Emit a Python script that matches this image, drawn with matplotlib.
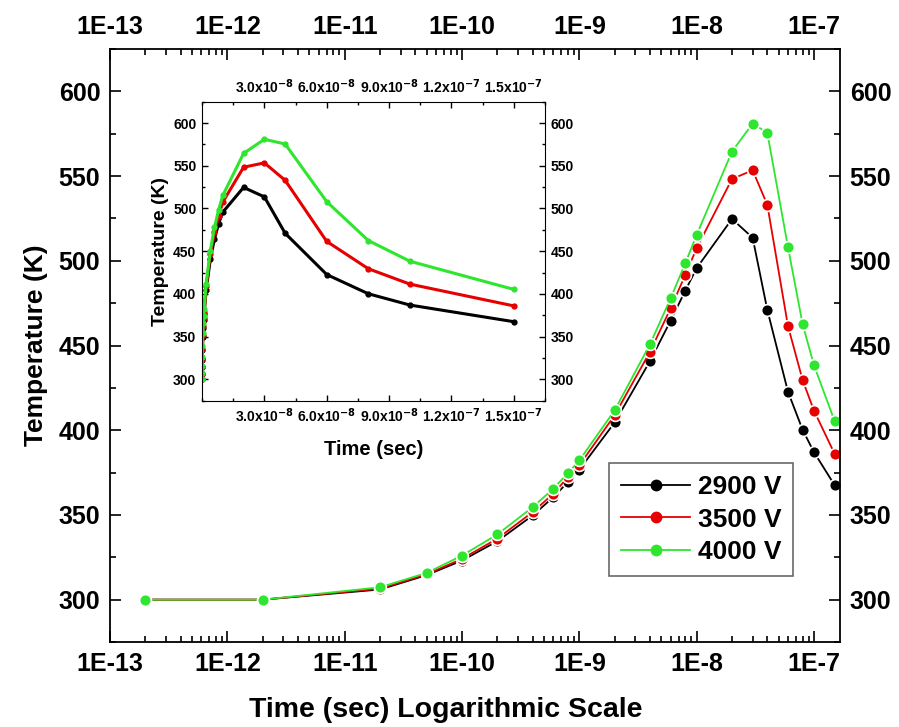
import matplotlib
matplotlib.use("Agg")
import matplotlib.pyplot as plt
import numpy as np
from matplotlib.ticker import FixedLocator, FuncFormatter, LogLocator, MultipleLocator, NullFormatter

plt.rcParams['font.family'] = ['Liberation Sans', 'DejaVu Sans']
plt.rcParams['font.weight'] = 'bold'

# time points (s) and temperatures (K) for each applied voltage
time_s = [2e-13, 2e-12, 2e-11, 5e-11, 1e-10, 2e-10, 4e-10, 6e-10, 8e-10, 1e-9, 2e-9,
          4e-9, 6e-9, 8e-9, 1e-8, 2e-8, 3e-8, 4e-8, 6e-8, 8e-8, 1e-7, 1.5e-7]
temp_2900 = [300, 300, 306.0, 314.5, 323.1, 334.5, 349.7, 360.5, 369.4, 376.7, 404.6,
             440.8, 464.7, 482.4, 495.7, 524.7, 513.6, 471.0, 422.7, 400.2, 387.0, 367.5]
temp_3500 = [300, 300, 306.5, 315.0, 324.1, 336.0, 351.7, 362.5, 372.4, 379.3, 408.9,
             446.3, 472.0, 491.7, 507.5, 548.3, 553.4, 533.0, 461.5, 429.5, 411.5, 386.0]
temp_4000 = [300, 300, 307.3, 315.8, 326.0, 338.5, 354.6, 365.5, 374.7, 382.2, 411.8,
             450.7, 477.9, 498.6, 515.3, 564.5, 581.0, 575.5, 508.0, 462.5, 438.3, 405.3]

labels = ["2900 V", "3500 V", "4000 V"]
colors = ["#000000", "#e60000", "#2ee62e"]
series = [temp_2900, temp_3500, temp_4000]

inset_xticks = [3e-8, 6e-8, 9e-8, 1.2e-7, 1.5e-7]
inset_xticklabels = [r"3.0x10$^{-8}$", r"6.0x10$^{-8}$", r"9.0x10$^{-8}$",
                     r"1.2x10$^{-7}$", r"1.5x10$^{-7}$"]

fig = plt.figure(figsize=(8.99, 7.27), dpi=100)
ax = fig.add_axes([0.1224, 0.1169, 0.812, 0.8157])

for temps, lab, col in zip(series, labels, colors):
    ax.plot(time_s, temps, color=col, lw=1.3, marker='o', markersize=8.5,
            markerfacecolor=col, markeredgecolor='white', markeredgewidth=1.2, label=lab)

ax.set_xscale('log')
ax.set_xlim(1e-13, 1.666e-7)
ax.set_ylim(275, 625)
ax.xaxis.set_major_locator(FixedLocator([1e-13, 1e-12, 1e-11, 1e-10, 1e-9, 1e-8, 1e-7]))
ax.xaxis.set_major_formatter(FuncFormatter(lambda v, p: f"1E{int(round(np.log10(v)))}"))
ax.xaxis.set_minor_locator(LogLocator(base=10, subs=np.arange(2, 10), numticks=50))
ax.xaxis.set_minor_formatter(NullFormatter())
ax.yaxis.set_major_locator(MultipleLocator(50))
ax.yaxis.set_minor_locator(MultipleLocator(25))
ax.tick_params(which='both', direction='in', top=True, right=True,
               labeltop=True, labelright=True, width=1.2, labelsize=18, pad=7)
ax.tick_params(which='major', length=8)
ax.tick_params(which='minor', length=4.5)
for s in ax.spines.values():
    s.set_linewidth(1.3)

ax.set_xlabel("Time (sec) Logarithmic Scale", fontsize=20.5, fontweight='bold')
ax.xaxis.set_label_coords(0.46, -0.093)
ax.set_ylabel("Temperature (K)", fontsize=19, fontweight='bold', labelpad=8)

leg = ax.legend(loc='upper left', bbox_to_anchor=(0.684, 0.302), borderaxespad=0,
                fontsize=19, frameon=True, fancybox=False, edgecolor='#444444',
                handlelength=2.6, handletextpad=0.3, labelspacing=0.33, borderpad=0.45)
leg.get_frame().set_linewidth(1.2)
for h in leg.legend_handles:
    h.set_markeredgewidth(0)

# inset: same data on a linear time axis
ins = fig.add_axes([0.2247, 0.4488, 0.3815, 0.4113])
for temps, col in zip(series, colors):
    ins.plot(time_s, temps, color=col, lw=2.2, marker='o', markersize=3.5)
ins.set_xlim(0, 1.65e-7)
ins.set_ylim(275, 625)
ins.xaxis.set_major_locator(FixedLocator(inset_xticks))
ins.set_xticklabels(inset_xticklabels)
ins.xaxis.set_minor_locator(MultipleLocator(1.5e-8))
ins.yaxis.set_major_locator(MultipleLocator(50))
ins.yaxis.set_minor_locator(MultipleLocator(25))
ins.tick_params(which='both', direction='in', top=True, right=True,
                labeltop=True, labelright=True, width=1, labelsize=10, pad=4)
ins.tick_params(which='major', length=4)
ins.tick_params(which='minor', length=2.5)
ins.set_xlabel("Time (sec)", fontsize=14.5, fontweight='bold', labelpad=11)
ins.set_ylabel("Temperature (K)", fontsize=14, fontweight='bold', labelpad=3)

fig.savefig("out.png", dpi=100)
